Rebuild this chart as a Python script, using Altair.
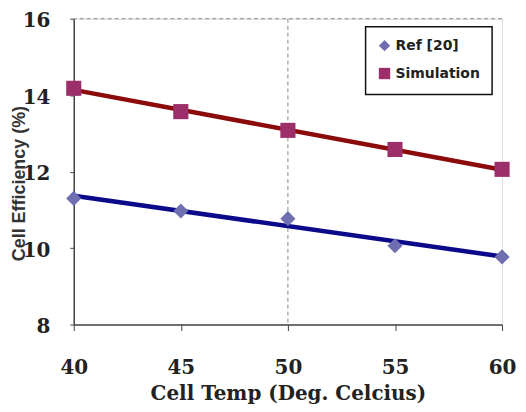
import altair as alt
import pandas as pd

temps = [40, 45, 50, 55, 60]
ref_values = [11.3, 10.97, 10.77, 10.06, 9.77]
sim_values = [14.18, 13.57, 13.08, 12.58, 12.06]
series_names = ["Ref [20]", "Simulation"]

rows = []
for t, v in zip(temps, ref_values):
    rows.append({"temp": t, "eff": v, "series": series_names[0]})
for t, v in zip(temps, sim_values):
    rows.append({"temp": t, "eff": v, "series": series_names[1]})
df = pd.DataFrame(rows)

xgrid = pd.DataFrame({"temp": [50]})
ygrid = pd.DataFrame({"eff": [16]})

xscale = alt.Scale(domain=[40, 60], nice=False)
yscale = alt.Scale(domain=[8, 16], nice=False)

base = alt.Chart(df)

vgrid = alt.Chart(xgrid).mark_rule(color="#888888", strokeDash=[4, 3], strokeWidth=1).encode(
    x=alt.X("temp:Q", scale=xscale)
)
hgrid = alt.Chart(ygrid).mark_rule(color="#888888", strokeDash=[4, 3], strokeWidth=1).encode(
    y=alt.Y("eff:Q", scale=yscale)
)

line_ref = base.transform_filter(alt.datum.series == series_names[0]).transform_regression(
    "temp", "eff"
).mark_line(color="#0a0a8a", strokeWidth=4.5).encode(
    x=alt.X("temp:Q", scale=xscale), y=alt.Y("eff:Q", scale=yscale)
)
line_sim = base.transform_filter(alt.datum.series == series_names[1]).transform_regression(
    "temp", "eff"
).mark_line(color="#8b0a0a", strokeWidth=4.5).encode(
    x=alt.X("temp:Q", scale=xscale), y=alt.Y("eff:Q", scale=yscale)
)

legend = alt.Legend(
    title=None,
    orient="none",
    legendX=293,
    legendY=8,
    strokeColor="#111111",
    fillColor="white",
    padding=12,
    labelFont="DejaVu Sans",
    labelFontSize=14,
    labelFontWeight="bold",
    labelColor="#222222",
    symbolSize=130,
    symbolOpacity=1,
)

points = base.mark_point(filled=True, opacity=1, size=230).encode(
    x=alt.X(
        "temp:Q",
        scale=xscale,
        axis=alt.Axis(
            values=temps,
            title="Cell Temp (Deg. Celcius)",
            grid=False,
            labelFlush=False,
            labelFont="DejaVu Serif",
            labelFontWeight="bold",
            labelFontSize=20,
            labelColor="#222222",
            labelPadding=27,
            titleFont="DejaVu Serif",
            titleFontWeight="bold",
            titleFontSize=20,
            titleColor="#222222",
            titlePadding=6,
            domainColor="#444444",
            domainWidth=1.5,
            tickColor="#444444",
            tickSize=6,
        ),
    ),
    y=alt.Y(
        "eff:Q",
        scale=yscale,
        axis=alt.Axis(
            values=[8, 10, 12, 14, 16],
            title="Cell Efficiency (%)",
            grid=False,
            labelFlush=False,
            labelOffset=2,
            labelFont="DejaVu Serif",
            labelFontWeight="bold",
            labelFontSize=20,
            labelColor="#222222",
            labelPadding=20,
            titleFont="Liberation Sans",
            titleFontWeight="bold",
            titleFontSize=18,
            titleColor="#333333",
            titleBaseline="middle",
            titleX=-54,
            titleY=165,
            domainColor="#444444",
            domainWidth=1.5,
            tickColor="#444444",
            tickSize=4,
        ),
    ),
    shape=alt.Shape(
        "series:N",
        scale=alt.Scale(domain=series_names, range=["diamond", "square"]),
        legend=legend,
    ),
    color=alt.Color(
        "series:N",
        scale=alt.Scale(domain=series_names, range=["#6e6eb0", "#9c2f6a"]),
        legend=legend,
    ),
)

chart = alt.layer(vgrid, hgrid, line_ref, line_sim, points).properties(
    width=430,
    height=307,
    autosize=alt.AutoSizeParams(type="none"),
    padding={"left": 66, "top": 10, "right": 16, "bottom": 79},
).configure_view(stroke=None).configure(background="white").configure_legend(
    strokeWidth=1.5, rowPadding=10
)

chart.save("out.html", embed_options={"renderer": "svg", "actions": False})
